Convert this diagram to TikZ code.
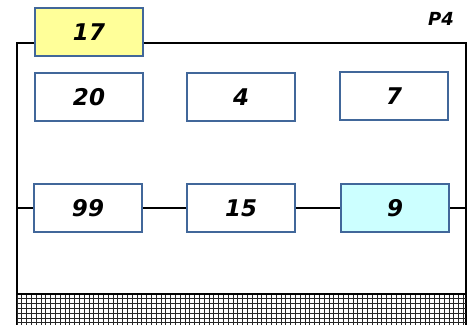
\documentclass[tikz,border=0pt]{standalone}
\usepackage{fontspec}
\setmainfont{DejaVu Sans}
\definecolor{boxline}{HTML}{41679A}
\definecolor{yel}{HTML}{FFFF99}
\definecolor{cyn}{HTML}{CCFFFF}
\begin{document}
\begin{tikzpicture}[x=1pt,y=-1pt,
  cell/.style={draw=boxline,line width=2.2pt,minimum width=108pt,minimum height=48pt,inner sep=0pt,font=\fontsize{23}{23}\selectfont\bfseries\itshape,fill=white},
  frame/.style={draw=black,line width=2.4pt},
  link/.style={draw=black,line width=2pt}]
\useasboundingbox (0,0) rectangle (476,324);
% frame
\draw[frame] (17,326) -- (17,43) -- (466,43) -- (466,326);
% hatch
\begin{scope}
\clip (17,294) rectangle (466,326);
\foreach \i in {0,...,95} {\draw[black!85,line width=0.9pt] ({17+4.8*\i},294) -- ({17+4.8*\i},326);}
\foreach \j in {0,...,7} {\draw[black!85,line width=0.9pt] (17,{294+4.8*\j}) -- (466,{294+4.8*\j});}
\end{scope}
\draw[frame] (17,294) -- (466,294);
% nodes
\node[cell,fill=yel] (n17) at (89,32) {17};
\node[cell] (n20) at (89,97) {20};
\node[cell] (n4) at (241,97) {4};
\node[cell] (n7) at (394,96) {7};
\node[cell] (n99) at (88,208) {99};
\node[cell] (n15) at (241,208) {15};
\node[cell,fill=cyn] (n9) at (395,208) {9};
\coordinate (L) at (17,208);
\coordinate (R) at (466,208);
\draw[link] (L) -- (n99.west);
\draw[link] (n99.east) -- (n15.west);
\draw[link] (n15.east) -- (n9.west);
\draw[link] (n9.east) -- (R);
\node[font=\fontsize{18}{18}\selectfont\bfseries\itshape,anchor=center] (p4) at (441,19) {P4};
\end{tikzpicture}
\end{document}
